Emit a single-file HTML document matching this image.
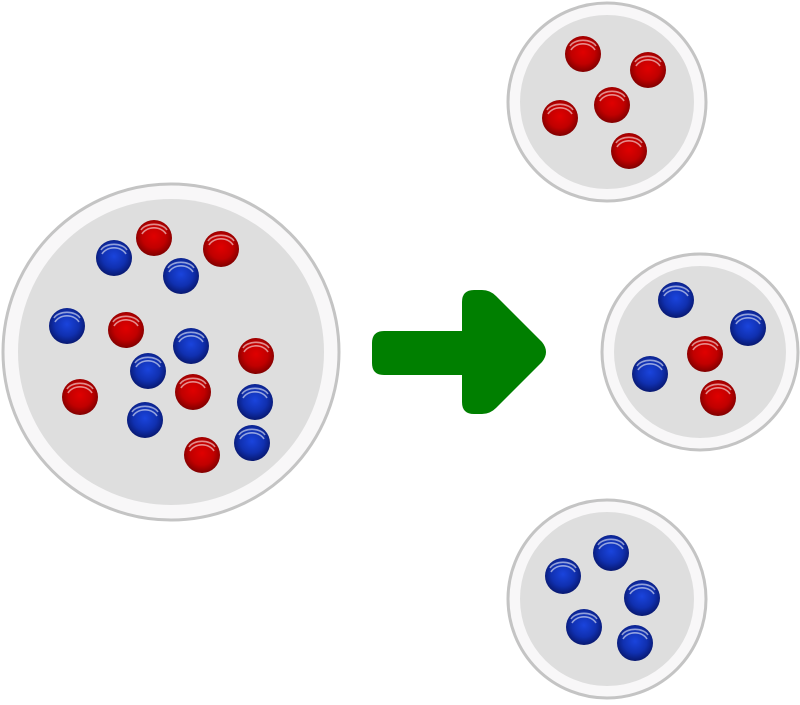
<!DOCTYPE html>
<html><head><style>html,body{margin:0;padding:0;background:#fff;}svg{display:block}</style></head>
<body>
<svg width="800" height="705" viewBox="0 0 800 705" xmlns="http://www.w3.org/2000/svg">
<defs>
<radialGradient id="r" cx="0.5" cy="0.45" r="0.55">
<stop offset="0" stop-color="#e00000"/><stop offset="0.6" stop-color="#c00000"/><stop offset="1" stop-color="#800000"/></radialGradient>
<radialGradient id="b" cx="0.5" cy="0.45" r="0.55">
<stop offset="0" stop-color="#1a44dd"/><stop offset="0.6" stop-color="#1030b0"/><stop offset="1" stop-color="#081870"/></radialGradient>
<g id="hl" fill="none" stroke="#fff" stroke-opacity="0.55" stroke-width="1.6">
<path d="M-12,-4 A13,10 0 0 1 12,-4"/><path d="M-13,-8 A14,9 0 0 1 13,-8"/></g>
<g id="R"><circle r="18" fill="url(#r)"/><use href="#hl"/></g>
<g id="B"><circle r="18" fill="url(#b)"/><use href="#hl"/></g>
</defs>
<g stroke="#c4c4c4" stroke-width="3">
<circle cx="171" cy="352" r="168" fill="#f8f7f8"/>
<circle cx="607" cy="102" r="99" fill="#f8f7f8"/>
<circle cx="700" cy="352" r="98" fill="#f8f7f8"/>
<circle cx="607" cy="599" r="99" fill="#f8f7f8"/>
</g>
<g fill="#dedede">
<circle cx="171" cy="352" r="153"/>
<circle cx="607" cy="102" r="87"/>
<circle cx="700" cy="352" r="86"/>
<circle cx="607" cy="599" r="87"/>
</g>
<path d="M384,331 H462 V302 Q462,290 474,290 H482 Q490,290 496,296 L542,342 Q550,352 542,362 L496,408 Q490,414 482,414 H474 Q462,414 462,402 V375 H384 Q372,375 372,363 V343 Q372,331 384,331 Z" fill="#007f00"/>
<use href="#B" x="114" y="258"/><use href="#R" x="154" y="238"/><use href="#R" x="221" y="249"/><use href="#B" x="181" y="276"/>
<use href="#B" x="67" y="326"/><use href="#R" x="126" y="330"/><use href="#B" x="191" y="346"/><use href="#R" x="256" y="356"/>
<use href="#B" x="148" y="371"/><use href="#R" x="193" y="392"/><use href="#R" x="80" y="397"/><use href="#B" x="255" y="402"/>
<use href="#B" x="145" y="420"/><use href="#B" x="252" y="443"/><use href="#R" x="202" y="455"/>
<use href="#R" x="583" y="54"/><use href="#R" x="648" y="70"/><use href="#R" x="612" y="105"/><use href="#R" x="560" y="118"/><use href="#R" x="629" y="151"/>
<use href="#B" x="676" y="300"/><use href="#B" x="748" y="328"/><use href="#R" x="705" y="354"/><use href="#B" x="650" y="374"/><use href="#R" x="718" y="398"/>
<use href="#B" x="611" y="553"/><use href="#B" x="563" y="576"/><use href="#B" x="642" y="598"/><use href="#B" x="584" y="627"/><use href="#B" x="635" y="643"/>
</svg>
</body></html>
